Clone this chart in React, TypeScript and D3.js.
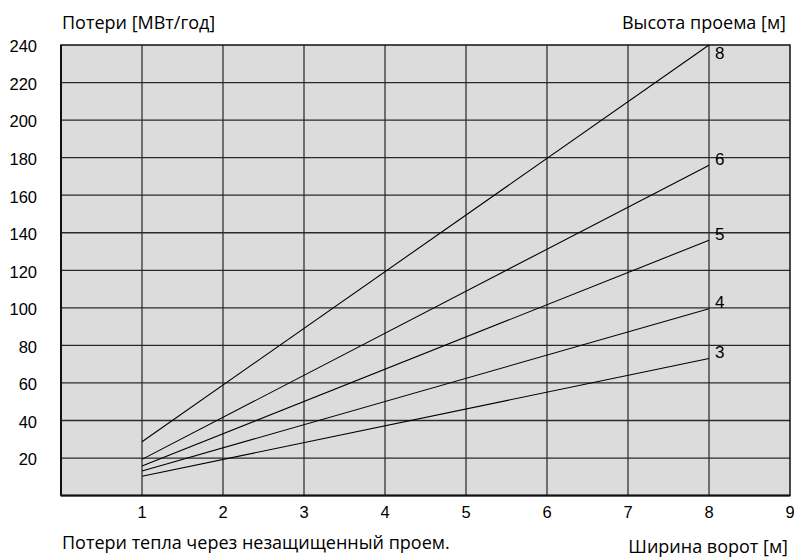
import React from "react";
import * as d3 from "d3";

const widths = [1, 8];
const heightLabels = ["8", "6", "5", "4", "3"];
const lossAtW1 = [28.7, 19.3, 15.8, 13.1, 10.3];
const lossAtW8 = [240, 176, 136, 99.5, 73];
const xTicks = [1, 2, 3, 4, 5, 6, 7, 8, 9];
const yTicks = [20, 40, 60, 80, 100, 120, 140, 160, 180, 200, 220, 240];

const W = 794;
const H = 558;
const left = 61;
const right = 790;
const top = 45;
const bottom = 495.6;

export default function App() {
  const x = d3.scaleLinear().domain([0, 9]).range([left, right]);
  const y = d3.scaleLinear().domain([0, 240]).range([bottom, top]);
  const line = d3
    .line<[number, number]>()
    .x((d) => x(d[0]))
    .y((d) => y(d[1]));
  const series = heightLabels.map((lab, i) => ({
    lab,
    pts: [
      [widths[0], lossAtW1[i]],
      [widths[1], lossAtW8[i]],
    ] as [number, number][],
  }));
  const tickFont = "'Liberation Sans', Arial, sans-serif";
  const textFont = "'Open Sans', 'Noto Sans', sans-serif";
  return (
    <svg
      width={W}
      height={H}
      style={{ position: "absolute", left: 0, top: 0 }}
      viewBox={`0 0 ${W} ${H}`}
    >
      <rect x={0} y={0} width={W} height={H} fill="#ffffff" />
      <rect x={left} y={top} width={right - left} height={bottom - top} fill="#dcdcdc" />
      {xTicks.slice(0, -1).map((t) => (
        <line key={"gx" + t} x1={x(t)} x2={x(t)} y1={top} y2={bottom} stroke="#4a4a4a" strokeWidth={1.5} />
      ))}
      {yTicks.slice(0, -1).map((t) => (
        <line key={"gy" + t} x1={left} x2={right} y1={y(t)} y2={y(t)} stroke="#2a2a2a" strokeWidth={1.3} />
      ))}
      <rect x={left} y={top} width={right - left} height={bottom - top} fill="none" stroke="#111" strokeWidth={1.5} />
      <line x1={left} x2={right} y1={bottom} y2={bottom} stroke="#111" strokeWidth={2} />
      <line x1={left} x2={left} y1={top} y2={bottom} stroke="#111" strokeWidth={2} />
      {series.map((s) => (
        <path key={"l" + s.lab} d={line(s.pts) || ""} fill="none" stroke="#000" strokeWidth={1.1} />
      ))}
      {series.map((s, i) => {
        const yy = y(s.pts[1][1]);
        return (
          <text
            key={"t" + s.lab}
            x={x(8) + 6}
            y={i === 0 ? yy + 10 : yy - 5}
            dominantBaseline="middle"
            fontFamily={tickFont}
            fontSize={17}
            fill="#000"
          >
            {s.lab}
          </text>
        );
      })}
      {yTicks.map((t) => (
        <text key={"yt" + t} x={37} y={y(t) + 3} textAnchor="end" dominantBaseline="middle" fontFamily={tickFont} fontSize={16.5} fill="#000">
          {t}
        </text>
      ))}
      {xTicks.map((t) => (
        <text key={"xt" + t} x={x(t)} y={514} textAnchor="middle" dominantBaseline="middle" fontFamily={tickFont} fontSize={16.5} fill="#000">
          {t}
        </text>
      ))}
      <text x={62} y={28.5} fontFamily={textFont} fontSize={18} fill="#000">
        Потери [МВт/год]
      </text>
      <text x={786} y={29} textAnchor="end" fontFamily={textFont} fontSize={18} fill="#000">
        Высота проема [м]
      </text>
      <text x={62} y={549} fontFamily={textFont} fontSize={18} fill="#000">
        Потери тепла через незащищенный проем.
      </text>
      <text x={788} y={552.5} textAnchor="end" fontFamily={textFont} fontSize={18} fill="#000">
        Ширина ворот [м]
      </text>
    </svg>
  );
}
